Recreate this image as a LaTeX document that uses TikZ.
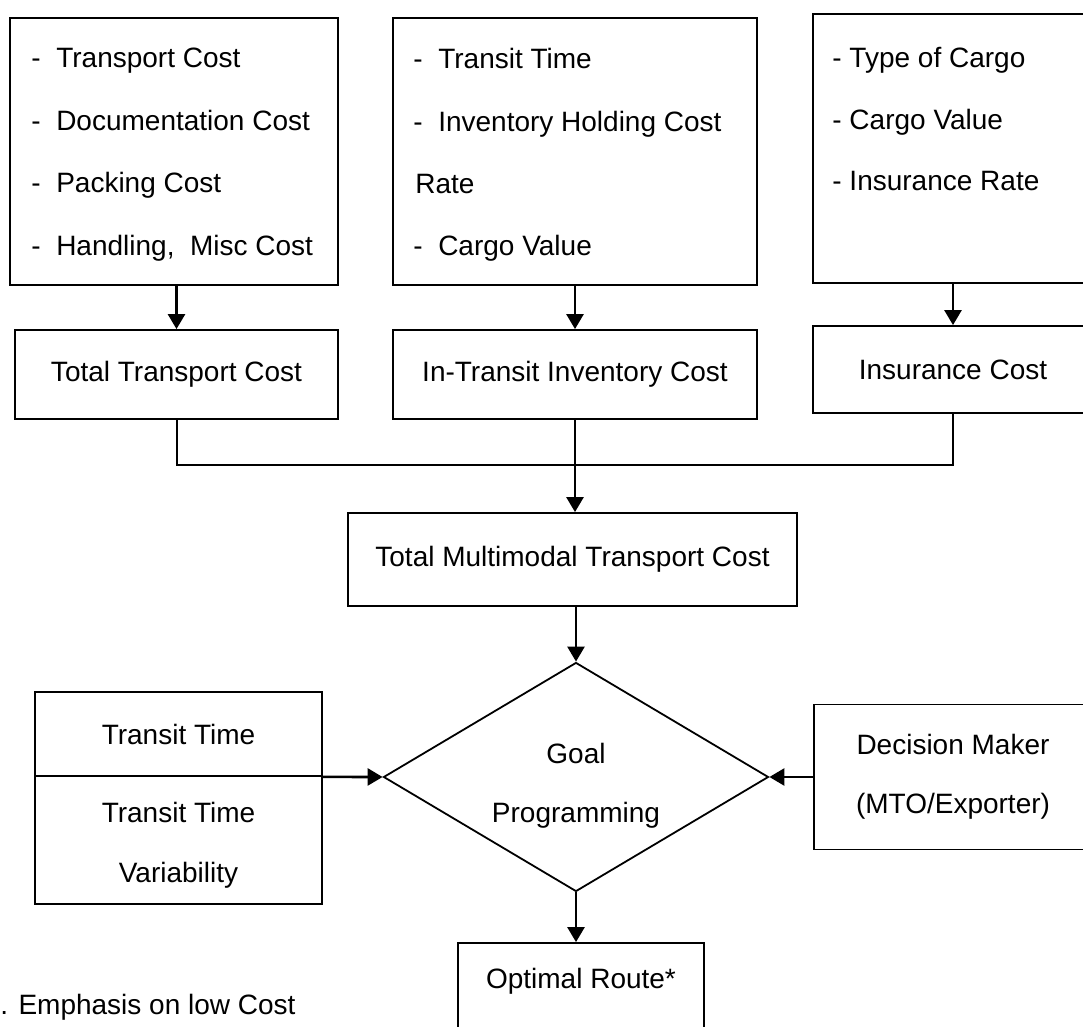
\documentclass[tikz,border=0pt]{standalone}
\usepackage{fontspec}
\setmainfont{Liberation Sans}
\usetikzlibrary{arrows.meta,positioning,calc,shapes.geometric}
\tikzset{
  blk/.style={draw,rectangle,line width=0.9pt,inner sep=0pt,align=center,font=\fontsize{14}{29.5}\selectfont},
  lst/.style={inner sep=0pt,anchor=north west,align=left,font=\fontsize{14}{31.2}\selectfont},
  dmd/.style={draw,diamond,line width=0.9pt,inner sep=0pt,shape aspect=1.68},
  arr/.style={-{Triangle[length=7.5pt,width=8.5pt]},line width=1.3pt},
  lnk/.style={line width=1pt},
  lbl/.style={font=\fontsize{14}{29.5}\selectfont,inner sep=0pt,align=center}
}

\begin{document}
\begin{tikzpicture}[x=0.5pt,y=-0.5pt]
  \useasboundingbox (0,0) rectangle (1083,1027);
  \clip (0,0) rectangle (1083,1027);

  % Input lists
  \node[blk, minimum width=164pt, minimum height=133.5pt] (tcl) at (174,151.5) {};
  \node[lst] (tctxt) at (31,48) {-\ \ Transport Cost\\-\ \ Documentation Cost\\-\ \ Packing Cost\\-\ \ Handling,\ \ Misc Cost};
  \node[blk, minimum width=182pt, minimum height=133.5pt] (itl) at (575,151.5) {};
  \node[lst] (ittxt) at (413,48) {-\ \ Transit Time\\-\ \ Inventory Holding Cost\\\hspace{1pt}Rate\\-\ \ Cargo Value};
  \node[blk, minimum width=140pt, minimum height=134.5pt] (isl) at (953,148.5) {};
  \node[lst, font=\fontsize{14}{30.8}\selectfont] (istxt) at (832,47) {- Type of Cargo\\- Cargo Value\\- Insurance Rate};

  % Cost components
  \node[blk, minimum width=161.5pt, minimum height=44.5pt] (ttc) at (176.5,374.5) {Total Transport Cost};
  \node[blk, minimum width=182pt, minimum height=44.5pt] (itc) at (575,374.5) {In-Transit Inventory Cost};
  \node[blk, minimum width=140pt, minimum height=43.5pt] (ins) at (953,369.5) {Insurance Cost};

  \draw[arr] (ttc.north |- tcl.south) -- (ttc.north);
  \draw[arr] (itl.south) -- (itc.north);
  \draw[arr] (isl.south) -- (ins.north);

  % Total cost
  \node[blk, minimum width=224.5pt, minimum height=46.5pt] (tmc) at (572.5,559.5) {Total Multimodal Transport Cost};
  \coordinate (mrg) at (576,465);
  \draw[lnk] (ttc.south) |- (mrg) -| (ins.south);
  \draw[arr] (itc.south) -- (itc.south |- tmc.north);

  % Goal programming
  \node[dmd, minimum width=192.5pt, minimum height=114.5pt] (gp) at (576,777) {};
  \node[lbl] (gptxt) at (576,786) {Goal\\Programming};
  \draw[arr] (tmc.south -| gp.north) -- (gp.north);

  \node[blk, minimum width=143.5pt, minimum height=42pt] (tt1) at (178.5,734) {Transit Time};
  \node[blk, minimum width=143.5pt, minimum height=64pt] (tt2) at (178.5,840) {};
  \node[lbl, font=\fontsize{14}{30}\selectfont] (tt2txt) at (178.5,845) {Transit Time\\Variability};
  \draw[arr] (tt1.south east) -- (gp.west);

  \node[blk, minimum width=139pt, minimum height=72.5pt] (dec) at (953,777) {Decision Maker\\(MTO/Exporter)};
  \draw[arr] (dec.west) -- (gp.east);

  % Result
  \node[blk, minimum width=123pt, minimum height=53.5pt] (opt) at (581,996.5) {};
  \node[lbl, anchor=base] (opttxt) at (581,988) {Optimal Route*};
  \draw[arr] (gp.south) -- (gp.south |- opt.north);

  \node[lbl, anchor=west] (note) at (0,1007) {. Emphasis on low Cost};
\end{tikzpicture}
\end{document}
